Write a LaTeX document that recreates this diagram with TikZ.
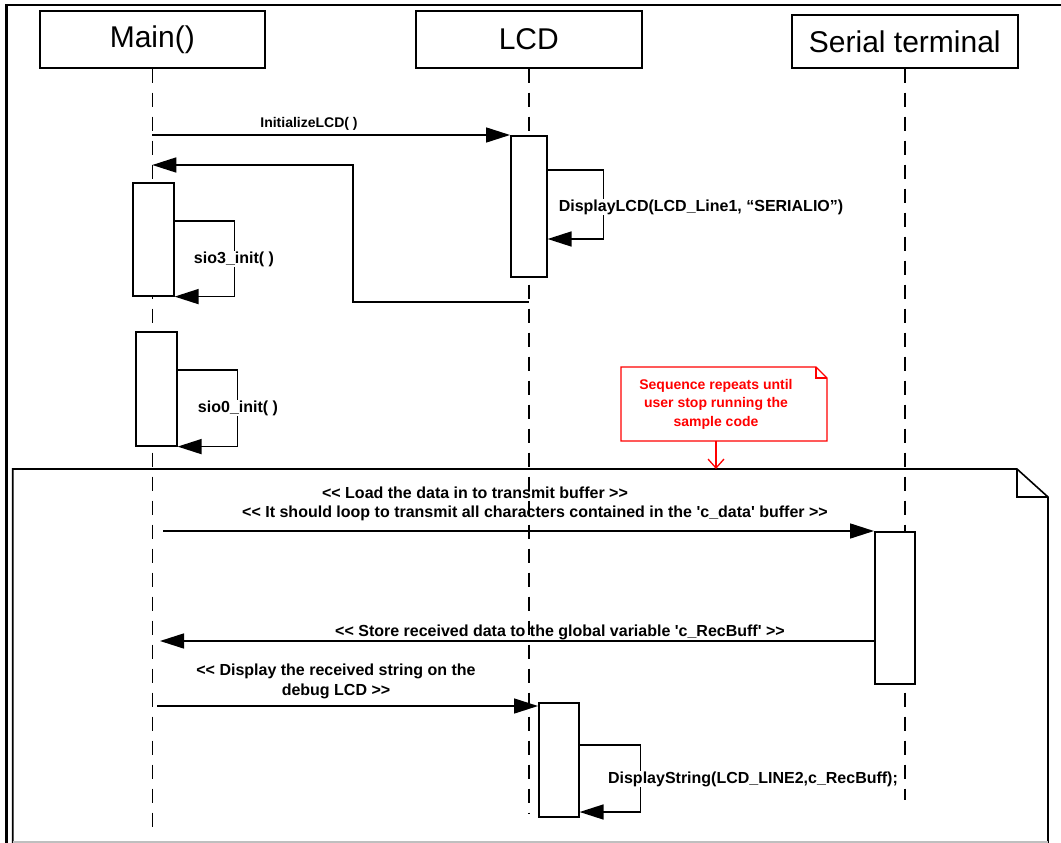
\documentclass[tikz,border=0pt]{standalone}
\usepackage{fontspec}
\setmainfont{Liberation Sans}[Ligatures=TeXOff]
\usepackage{xcolor}
\usetikzlibrary{arrows.meta}

\tikzset{
  cabecera/.style={draw, line width=1.6pt, anchor=north west, inner sep=0pt,
    font=\fontsize{30}{36}\selectfont},
  activ/.style={draw, fill=white, line width=1.6pt, anchor=north west, inner sep=0pt},
  vida/.style={line width=1.6pt, dash pattern=on 14pt off 10pt},
  msj/.style={line width=1.6pt, -{Triangle[length=24pt,width=15pt]}},
  etq/.style={font=\bfseries\fontsize{16}{20}\selectfont, inner sep=1pt},
}

\begin{document}
\begin{tikzpicture}[x=1pt,y=-1pt]
  \useasboundingbox (0,0) rectangle (1061,843);

  % Marcos
  \draw[line width=2.6pt] (6.7,843) -- (6.7,5) -- (1061,5);
  \draw[line width=1.6pt] (12.7,843) -- (12.7,469) -- (1017,469) -- (1048,497) -- (1048,843);
  \draw[line width=1.6pt] (1017,469) -- (1017,497) -- (1048,497);
  \draw[gray!50, line width=1.2pt] (12.7,842) -- (1048,842);

  % Cabeceras
  \node[cabecera, minimum width=225pt, minimum height=57pt] (main) at (39,10) {Main()};
  \node[cabecera, minimum width=226pt, minimum height=57pt] (lcd) at (415,10) {LCD};
  \node[cabecera, minimum width=226pt, minimum height=53pt] (serial) at (791,14) {Serial terminal};

  % Lineas de vida
  \draw[vida] (main.south) -- ++(0,758);
  \draw[vida] (lcd.south) -- ++(0,745);
  \draw[vida] (serial.south) -- ++(0,731);

  % Activaciones
  \node[activ, minimum width=41pt, minimum height=113pt] (mainA) at (132,182) {};
  \node[activ, minimum width=41pt, minimum height=114pt] (mainB) at (135,331) {};
  \node[activ, minimum width=36pt, minimum height=141pt] (lcdA) at (510,135) {};
  \node[activ, minimum width=40pt, minimum height=114pt] (lcdB) at (538,702) {};
  \node[activ, minimum width=40pt, minimum height=152pt] (serA) at (874,531) {};

  % Mensajes
  \draw[msj] (main.south |- 0,135) -- (lcdA.north west);
  \node[etq, font=\bfseries\fontsize{14}{17}\selectfont] (tInit) at (309,124) {InitializeLCD( )};

  \draw[msj] (lcd.south |- 0,302) -| (353,165) -- (main.south |- 0,165);

  \draw[msj] (mainA.east |- 0,221) -- ++(60,0) |- (mainA.south east);
  \node[etq, fill=white] (tSio3) at (234,259) {sio3\_init( )};

  \draw[msj] (lcdA.east |- 0,170) -- ++(56,0) |- (lcdA.east |- 0,239);
  \node[etq, fill=white] (tDisp) at (701,207) {DisplayLCD(LCD\_Line1, “SERIALIO”)};

  \draw[msj] (mainB.east |- 0,370) -- ++(60,0) |- (mainB.south east);
  \node[etq, fill=white] (tSio0) at (238,408) {sio0\_init( )};

  % Nota
  \draw[red, line width=1.3pt] (621,367) -- (816,367) -- (827,378) -- (827,441) -- (621,441) -- cycle;
  \draw[red, line width=1.3pt] (816,367) -- (816,378) -- (827,378);
  \node[red, align=center, font=\bfseries\fontsize{14}{18.5}\selectfont] (nota) at (716,404)
    {Sequence repeats until\\user stop running the\\sample code};
  \draw[red, line width=1.3pt, -{Straight Barb[length=9pt,width=16pt]}] (nota |- 0,441) -- (nota |- 0,469);

  % Bucle
  \coordinate (cargaIni) at (163,531);
  \draw[msj] (cargaIni) -- (serA.north west);
  \node[etq] (tCarga1) at (475,493) {<< Load the data in to transmit buffer >>};
  \node[etq] (tCarga2) at (535,513) {<< It should loop to transmit all characters contained in the 'c\_data' buffer >>};

  \coordinate (guardaFin) at (160,641);
  \draw[msj] (serA.west |- 0,641) -- (guardaFin);
  \node[etq] (tGuarda) at (560,632) {<< Store received data to the global variable 'c\_RecBuff' >>};

  \coordinate (mostrarIni) at (157,706);
  \draw[msj] (mostrarIni) -- (lcdB.west |- 0,706);
  \node[etq, align=center] (tMostrar) at (336,681) {<< Display the received string on the\\debug LCD >>};

  \draw[msj] (lcdB.east |- 0,745) -- ++(61,0) |- (lcdB.east |- 0,812);
  \node[etq, fill=white] (tString) at (753,779) {DisplayString(LCD\_LINE2,c\_RecBuff);};
\end{tikzpicture}
\end{document}
